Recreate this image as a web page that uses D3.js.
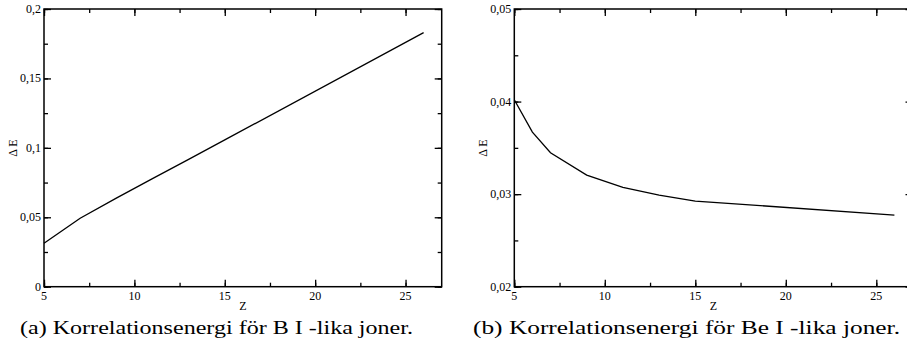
<!DOCTYPE html>
<html><head><meta charset="utf-8">
<script src="https://cdn.jsdelivr.net/npm/d3@7"></script>
<style>body{margin:0;background:#fff}svg{display:block}</style>
</head><body>
<svg id="c" width="907" height="354"></svg>
<script>
// Data (a): B I-like ions
const zA = [5, 6, 7, 9, 11, 13, 15, 26];
const eA = [0.0313, 0.0403, 0.0493, 0.0638, 0.0778, 0.0917, 0.1057, 0.1830];
// Data (b): Be I-like ions
const zB = [5, 6, 7, 9, 11, 13, 15, 26];
const eB = [0.0402, 0.0367, 0.03447, 0.03206, 0.03073, 0.0299, 0.02925, 0.02774];
const xTicks = [5, 10, 15, 20, 25];
const yTicksA = [0, 0.05, 0.1, 0.15, 0.2];
const yTicksB = [0.02, 0.03, 0.04, 0.05];
const captionA = "(a) Korrelationsenergi för B I -lika joner.";
const captionB = "(b) Korrelationsenergi för Be I -lika joner.";

const svg = d3.select("#c");
const fmt = v => String(+v.toFixed(3)).replace(".", ",");
const font = "Liberation Serif, DejaVu Serif, Times New Roman, serif";

function panel(o) {
  const x = d3.scaleLinear().domain([5, 27]).range([o.left, o.right]);
  const y = d3.scaleLinear().domain(o.ydom).range([286.7, 9]);
  const g = svg.append("g");
  const xMinor = d3.range(5, 27.01, 2.5);
  const yMinor = d3.range(o.ydom[0], o.ydom[1] + 1e-9, o.minor);
  const ax = (axis, tr) => {
    const a = g.append("g").attr("transform", tr).call(axis);
    a.select(".domain").remove();
    a.selectAll("line").attr("stroke", "#000").attr("stroke-width", 1.3);
    return a;
  };
  ax(d3.axisTop(x).tickValues(xMinor).tickSize(4).tickFormat(""), `translate(0,${y.range()[0]})`);
  ax(d3.axisBottom(x).tickValues(xMinor).tickSize(4).tickFormat(""), `translate(0,${y.range()[1]})`);
  ax(d3.axisTop(x).tickValues(xTicks).tickSize(7).tickFormat(""), `translate(0,${y.range()[0]})`);
  ax(d3.axisBottom(x).tickValues(xTicks).tickSize(7).tickFormat(""), `translate(0,${y.range()[1]})`);
  ax(d3.axisRight(y).tickValues(yMinor).tickSize(4).tickFormat(""), `translate(${o.left},0)`);
  ax(d3.axisLeft(y).tickValues(yMinor).tickSize(4).tickFormat(""), `translate(${x(27)},0)`);
  ax(d3.axisRight(y).tickValues(o.yTicks).tickSize(7).tickFormat(""), `translate(${o.left},0)`);
  ax(d3.axisLeft(y).tickValues(o.yTicks).tickSize(7).tickFormat(""), `translate(${x(27)},0)`);
  g.append("rect").attr("x", x(5)).attr("y", y.range()[1])
    .attr("width", x(27) - x(5)).attr("height", y.range()[0] - y.range()[1])
    .attr("fill", "none").attr("stroke", "#000").attr("stroke-width", 1.5);
  g.selectAll(".xl").data(xTicks).join("text")
    .attr("x", d => x(d)).attr("y", 300).attr("text-anchor", "middle")
    .style("font-family", font).attr("font-size", 12).text(d => d);
  g.selectAll(".yl").data(o.yTicks).join("text")
    .attr("x", o.left - 3).attr("y", d => y(d) + 4).attr("text-anchor", "end")
    .style("font-family", font).attr("font-size", 12).text(d => fmt(d));
  g.append("text").attr("x", (x(5) + x(27)) / 2).attr("y", 310).attr("text-anchor", "middle")
    .style("font-family", font).attr("font-size", 12).text("Z");
  g.append("text").attr("transform", `translate(${o.ylabX},148) rotate(-90)`)
    .attr("text-anchor", "middle").attr("dy", "0.35em")
    .style("font-family", font).attr("font-size", 12).text("Δ E");
  const pts = o.z.map((z, i) => [z, o.e[i]]);
  g.append("path").datum(pts)
    .attr("d", d3.line().x(d => x(d[0])).y(d => y(d[1])))
    .attr("fill", "none").attr("stroke", "#000").attr("stroke-width", 1.3);
  g.append("text").attr("x", o.capX).attr("y", 334)
    .style("font-family", font).attr("font-size", 18)
    .attr("textLength", o.capW).attr("lengthAdjust", "spacingAndGlyphs").text(o.caption);
}

panel({left: 44, right: 441.7, ydom: [0, 0.2], minor: 0.025, yTicks: yTicksA,
  z: zA, e: eA, ylabX: 13, caption: captionA, capX: 20, capW: 393});
panel({left: 514.3, right: 912.5, ydom: [0.02, 0.05], minor: 0.005, yTicks: yTicksB,
  z: zB, e: eB, ylabX: 483, caption: captionB, capX: 473, capW: 427});
</script>
</body></html>
